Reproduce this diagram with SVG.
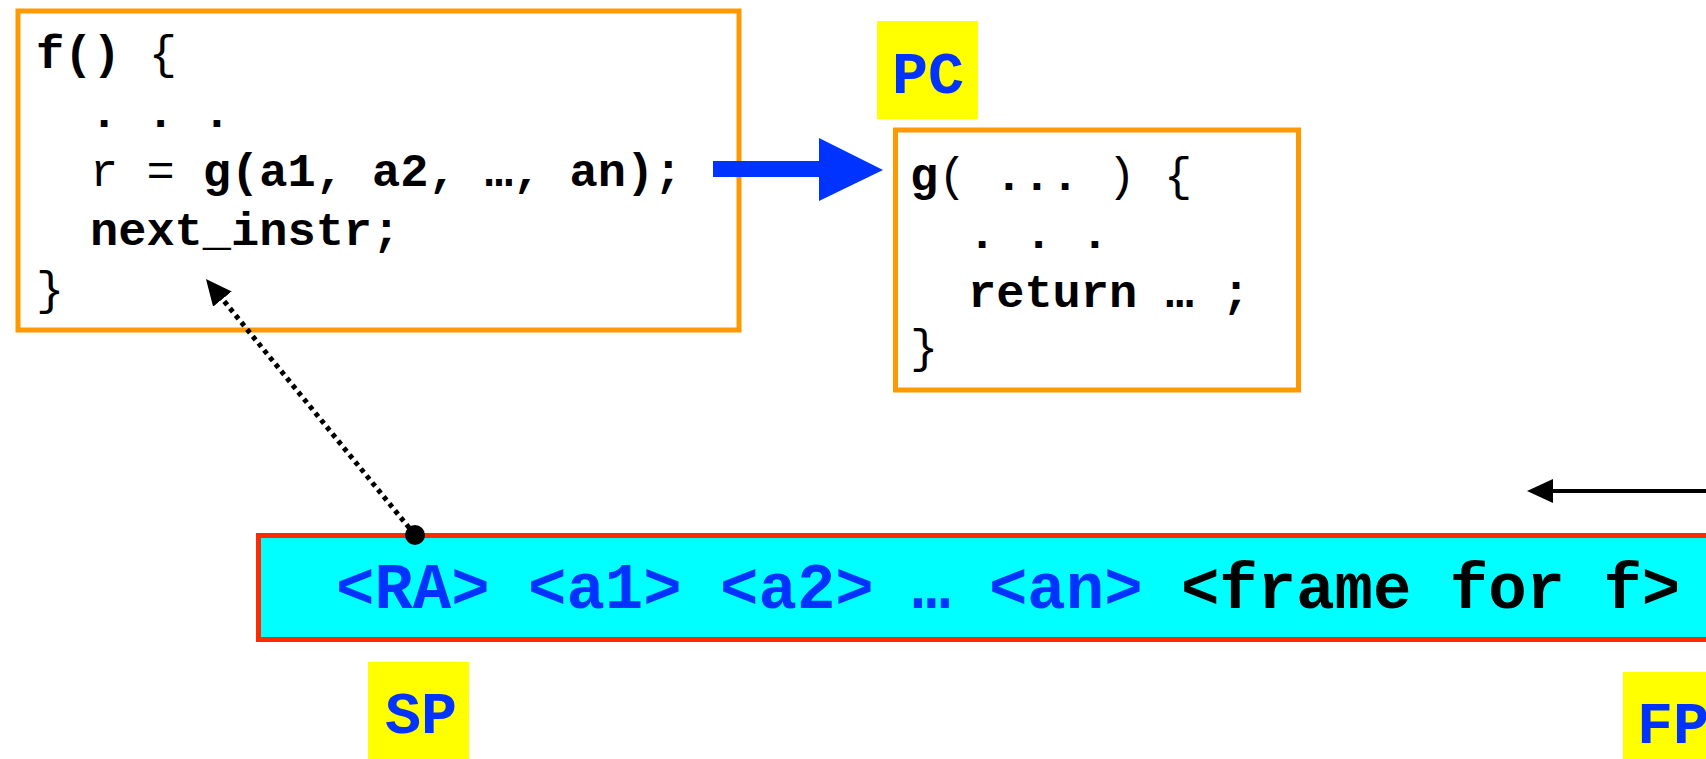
<svg xmlns="http://www.w3.org/2000/svg" width="1706" height="759" viewBox="0 0 1706 759">
  <defs>
    <style>
      .code { font-family: "Liberation Mono", "Courier New", monospace; font-size: 47px; fill: #000; }
      .b { font-weight: bold; }
      .box { fill: #fff; stroke: #ff9900; stroke-width: 5; }
      .tag { fill: #ffff00; }
      .tagtext { font-family: "Liberation Mono", "Courier New", monospace; font-size: 60px; font-weight: bold; fill: #0033ff; }
      .stack { font-family: "Liberation Mono", "Courier New", monospace; font-size: 64px; font-weight: bold; }
    </style>
    <marker id="tri" markerUnits="userSpaceOnUse" markerWidth="26" markerHeight="24" viewBox="0 0 26 24" refX="0" refY="12" orient="auto">
      <path d="M0,0 L26,12 L0,24 z" fill="#000"/>
    </marker>
  </defs>

  <rect width="1706" height="759" fill="#fff"/>

  <!-- caller f -->
  <g id="f-box">
    <rect class="box" x="18" y="11" width="721" height="319"/>
    <text class="code" x="36" y="68" xml:space="preserve"><tspan class="b">f()</tspan> {</text>
    <text class="code b" x="90" y="127" xml:space="preserve">. . .</text>
    <text class="code" x="90" y="186" xml:space="preserve">r = <tspan class="b">g(a1, a2, …, an);</tspan></text>
    <text class="code b" x="90" y="245">next_instr;</text>
    <text class="code" x="36" y="304">}</text>
  </g>

  <!-- callee g -->
  <g id="g-box">
    <rect class="box" x="895.5" y="130" width="403" height="260"/>
    <text class="code" x="910" y="190" xml:space="preserve"><tspan class="b">g</tspan>( <tspan class="b">...</tspan> ) {</text>
    <text class="code b" x="968" y="248" xml:space="preserve">. . .</text>
    <text class="code b" x="968" y="307" xml:space="preserve">return … ;</text>
    <text class="code" x="910" y="362">}</text>
  </g>

  <!-- register tags -->
  <g id="pc-label">
    <rect class="tag" x="877" y="21" width="101" height="98"/>
    <text class="tagtext" x="892" y="93">PC</text>
  </g>
  <g id="sp-label">
    <rect class="tag" x="368" y="662" width="101" height="100"/>
    <text class="tagtext" x="385" y="733">SP</text>
  </g>
  <g id="fp-label">
    <rect class="tag" x="1623" y="672" width="100" height="90"/>
    <text class="tagtext" x="1637" y="743">FP</text>
  </g>

  <!-- stack contents -->
  <g id="stack-bar">
    <rect x="258.5" y="535.5" width="1500" height="104" fill="#00ffff" stroke="#ff2a00" stroke-width="5"/>
    <text class="stack" x="336" y="608" xml:space="preserve"><tspan fill="#0033ff">&lt;RA&gt; &lt;a1&gt; &lt;a2&gt; … &lt;an&gt;</tspan><tspan fill="#000"> &lt;frame for f&gt;</tspan></text>
  </g>

  <!-- connectors -->
  <g id="connectors">
    <polygon points="713,161 819,161 819,138 883,170 819,201 819,177 713,177" fill="#0033ff"/>
    <line x1="415" y1="535" x2="222.4" y2="299.1" stroke="#000" stroke-width="5" stroke-dasharray="4.5 4.5" marker-end="url(#tri)"/>
    <circle cx="415" cy="535" r="10" fill="#000"/>
    <line x1="1720" y1="491" x2="1553" y2="491" stroke="#000" stroke-width="4" marker-end="url(#tri)"/>
  </g>
</svg>
